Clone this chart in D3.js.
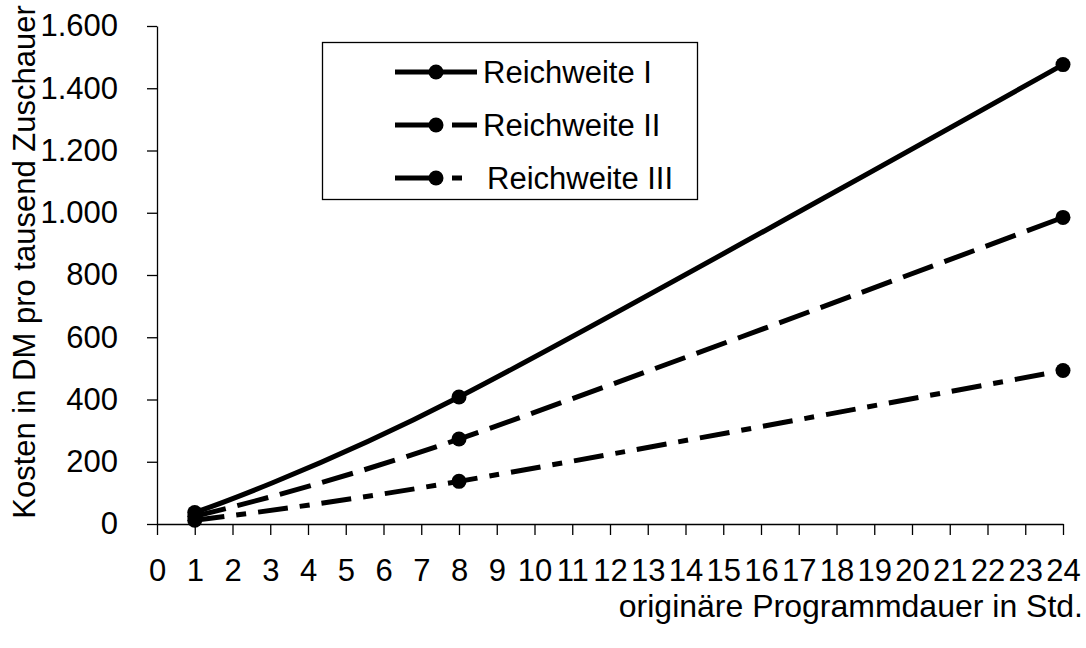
<!DOCTYPE html>
<html>
<head>
<meta charset="utf-8">
<script src="https://cdn.jsdelivr.net/npm/d3@7"></script>
<style>
  body { margin: 0; background: #fff; }
  text { font-family: "Liberation Sans", Arial, sans-serif; fill: #000; }
</style>
</head>
<body>
<svg width="1086" height="648"></svg>
<script>
// data
const hours = [1, 8, 24];
const reichweite1 = [37, 408, 1476];
const reichweite2 = [25, 273, 985];
const reichweite3 = [12, 137, 493];
const seriesNames = ["Reichweite I", "Reichweite II", "Reichweite III"];
const xTicks = [0,1,2,3,4,5,6,7,8,9,10,11,12,13,14,15,16,17,18,19,20,21,22,23,24];
const yTicks = [0, 200, 400, 600, 800, 1000, 1200, 1400, 1600];
const xTitle = "originäre Programmdauer in Std.";
const yTitle = "Kosten in DM pro tausend Zuschauer";

const series = [reichweite1, reichweite2, reichweite3].map((vals, i) => ({
  name: seriesNames[i],
  points: hours.map((h, j) => ({x: h, y: vals[j]}))
}));
const dashes = [null, "32,12", "30,12,10,12"];

const svg = d3.select('svg');
const fontSize = 31;

const de = d3.formatLocale({decimal: ",", thousands: ".", grouping: [3], currency: ["", " DM"]});
const fmt = de.format(",d");

const xScale = d3.scaleLinear().domain([0, 24]).range([157, 1063]);
const yScale = d3.scaleLinear().domain([0, 1600]).range([524, 26]);

// axes
const xAxis = d3.axisBottom(xScale)
  .tickValues(xTicks)
  .tickFormat(d3.format("d"))
  .tickSize(11)
  .tickSizeOuter(0)
  .tickPadding(24);

const yAxis = d3.axisLeft(yScale)
  .tickValues(yTicks)
  .tickFormat(fmt)
  .tickSize(10)
  .tickSizeOuter(0)
  .tickPadding(29);

const xAxisG = svg.append('g')
  .attr('transform', `translate(0,${yScale(0)})`)
  .call(xAxis);
const yAxisG = svg.append('g')
  .attr('transform', `translate(${xScale(0)},0)`)
  .call(yAxis);

[xAxisG, yAxisG].forEach(g => {
  g.selectAll('path, line').attr('stroke', '#000').attr('stroke-width', 1.3);
  g.selectAll('text')
    .attr('font-size', fontSize)
    .attr('font-family', '"Liberation Sans", Arial, sans-serif')
    .attr('fill', '#000');
});

// axis titles
svg.append('text')
  .attr('x', 1083)
  .attr('y', 617)
  .attr('text-anchor', 'end')
  .attr('font-size', 32)
  .text(xTitle);

svg.append('text')
  .attr('transform', `translate(35,262) rotate(-90)`)
  .attr('text-anchor', 'middle')
  .attr('font-size', fontSize)
  .text(yTitle);

// lines
const line = d3.line()
  .x(d => xScale(d.x))
  .y(d => yScale(d.y))
  .curve(d3.curveCardinal.tension(0));

const seriesG = svg.selectAll('.series').data(series)
  .enter().append('g')
    .attr('class', 'series');

seriesG.append('path')
  .attr('d', d => line(d.points))
  .attr('fill', 'none')
  .attr('stroke', '#000')
  .attr('stroke-width', 5)
  .attr('stroke-dasharray', (d, i) => dashes[i]);

seriesG.selectAll('circle').data(d => d.points)
  .enter().append('circle')
    .attr('cx', d => xScale(d.x))
    .attr('cy', d => yScale(d.y))
    .attr('r', 7.5)
    .attr('fill', '#000');

// legend
const legend = svg.append('g');
legend.append('rect')
  .attr('x', 322.5)
  .attr('y', 42.5)
  .attr('width', 375)
  .attr('height', 157)
  .attr('fill', '#fff')
  .attr('stroke', '#000')
  .attr('stroke-width', 1.3);

const rowY = i => 72 + i * 53;
const legendRows = legend.selectAll('.row').data(series)
  .enter().append('g')
    .attr('class', 'row');

legendRows.append('line')
  .attr('x1', 395).attr('x2', 477)
  .attr('y1', (d, i) => rowY(i)).attr('y2', (d, i) => rowY(i))
  .attr('stroke', '#000')
  .attr('stroke-width', 5)
  .attr('stroke-dasharray', (d, i) => i === 0 ? null : (i === 1 ? "45,12,30" : "45,12,10,20"));

legendRows.append('circle')
  .attr('cx', 436)
  .attr('cy', (d, i) => rowY(i))
  .attr('r', 7.5)
  .attr('fill', '#000');

legendRows.append('text')
  .attr('x', (d, i) => i === 2 ? 487 : 483)
  .attr('y', (d, i) => rowY(i))
  .attr('dy', '0.35em')
  .attr('font-size', fontSize)
  .text(d => d.name);
</script>
</body>
</html>
